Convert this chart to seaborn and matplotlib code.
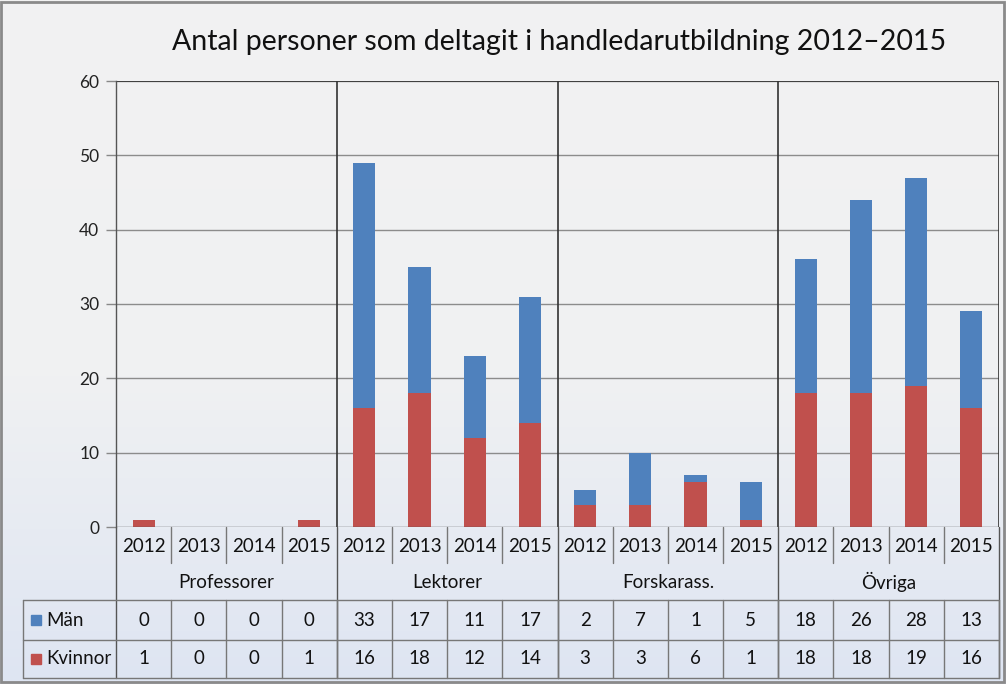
import numpy as np
import pandas as pd
import seaborn as sns
import matplotlib
matplotlib.use("Agg")
import matplotlib.pyplot as plt
from matplotlib.transforms import blended_transform_factory
from matplotlib.colors import LinearSegmentedColormap

# ---- data ----
groups = ["Professorer", "Lektorer", "Forskarass.", "Övriga"]
years = ["2012", "2013", "2014", "2015"]
man = [0, 0, 0, 0, 33, 17, 11, 17, 2, 7, 1, 5, 18, 26, 28, 13]
kvinnor = [1, 0, 0, 1, 16, 18, 12, 14, 3, 3, 6, 1, 18, 18, 19, 16]
series_names = ["Män", "Kvinnor"]
title = "Antal personer som deltagit i handledarutbildning 2012\u20132015"

BLUE = "#4F81BD"
RED = "#C0504D"

sns.set_theme(style="white")
plt.rcParams["font.family"] = ["Lato", "DejaVu Sans"]

W, H = 1006, 684
fig = plt.figure(figsize=(W / 100, H / 100), dpi=100)

def fx(px):
    return px / W

def fy(py):
    return 1 - py / H

# background gradient
bg = fig.add_axes([0, 0, 1, 1], zorder=-10)
cmap = LinearSegmentedColormap.from_list(
    "bg", [(0, "#F2F2F2"), (0.55, "#F0F1F3"), (1, "#DEE5F2")])
grad = np.linspace(0, 1, 256).reshape(-1, 1)
bg.imshow(grad, aspect="auto", cmap=cmap, extent=[0, 1, 1, 0])
bg.set_axis_off()

L, R, T, B = 116, 999, 81, 527
ax = fig.add_axes([fx(L), fy(B), fx(R) - fx(L), fy(T) - fy(B)])
ax.patch.set_alpha(0)

keys = [f"{g}-{y}" for g in groups for y in years]
df = pd.DataFrame({"key": keys, "total": np.array(man) + np.array(kvinnor),
                   "kvinnor": kvinnor})
sns.barplot(data=df, x="key", y="total", order=keys, color=BLUE,
            width=0.4, saturation=1, ax=ax, zorder=3, linewidth=0)
sns.barplot(data=df, x="key", y="kvinnor", order=keys, color=RED,
            width=0.4, saturation=1, ax=ax, zorder=4, linewidth=0)

ax.set_xlim(-0.5, 15.5)
ax.set_ylim(0, 60)
ax.set_yticks(range(0, 61, 10))
ax.set_yticklabels([str(v) for v in range(0, 61, 10)], fontsize=12.5, color="#222222")
ax.set_xticks([])
ax.set_xlabel("")
ax.set_ylabel("")
ax.tick_params(axis="y", length=7, width=1, color="#888888", pad=5, left=True)
for yv in range(10, 61, 10):
    ax.axhline(yv, color="#8C8C8C", lw=1.0, zorder=1)
for s in ["top", "bottom", "right"]:
    ax.spines[s].set_visible(False)
ax.spines["left"].set_color("#555555")
ax.spines["left"].set_linewidth(1.0)
ax.axhline(60, color="#333333", lw=1.2, zorder=2)
ax.axhline(0, color="#555555", lw=1.0, zorder=5)
ax.axvline(15.5, color="#333333", lw=1.2, zorder=2)
for xs in [3.5, 7.5, 11.5]:
    ax.axvline(xs, color="#333333", lw=1.2, zorder=2)

fig.text(fx(559), fy(42), title, ha="center", va="center", fontsize=20.5, color="#111111")

# ---- data table ----
tr = blended_transform_factory(ax.transData, fig.transFigure)
line_kw = dict(color="#777777", lw=1.0)
sep_kw = dict(color="#555555", lw=1.0)
y_year, y_grp, y_r1, y_r2, y_end = 527, 565, 600, 640, 678
TFS = 13.5

# year labels
for i, k in enumerate(keys):
    fig.text(0, 0, years[i % 4], transform=tr, fontsize=TFS, ha="center",
             va="center", color="#111111").set_position((i, fy(546)))
    if i % 4 != 3 and i < 15:
        fig.add_artist(plt.Line2D([i + 0.5, i + 0.5], [fy(y_year), fy(y_grp - 2)],
                                  transform=tr, **line_kw))
for gi, g in enumerate(groups):
    fig.text(0, 0, g, transform=tr, fontsize=TFS, ha="center", va="center",
             color="#111111").set_position((gi * 4 + 1.5, fy(582)))
# group separators through year/group rows
for xs in [-0.5, 3.5, 7.5, 11.5, 15.5]:
    fig.add_artist(plt.Line2D([xs, xs], [fy(y_year), fy(y_end)], transform=tr, **sep_kw))

# data rows
for yy in [y_r1, y_r2, y_end]:
    fig.add_artist(plt.Line2D([fx(23), fx(R)], [fy(yy), fy(yy)],
                              transform=fig.transFigure, **line_kw))
fig.add_artist(plt.Line2D([fx(23), fx(23)], [fy(y_r1), fy(y_end)],
                          transform=fig.transFigure, **line_kw))
for i in range(16):
    fig.add_artist(plt.Line2D([i + 0.5, i + 0.5], [fy(y_r1), fy(y_end)],
                              transform=tr, **line_kw))

rows = [(series_names[0], man, BLUE, (y_r1 + y_r2) / 2),
        (series_names[1], kvinnor, RED, (y_r2 + y_end) / 2)]
for name, vals, col, yc in rows:
    fig.add_artist(plt.Rectangle((fx(31), fy(yc) - 5 / H), 10 / W, 10 / H,
                                 transform=fig.transFigure, color=col))
    fig.text(fx(46), fy(yc), name, fontsize=TFS, ha="left", va="center", color="#111111")
    for i, v in enumerate(vals):
        fig.text(0, 0, str(v), transform=tr, fontsize=TFS, ha="center",
                 va="center", color="#111111").set_position((i, fy(yc)))

# outer border
fig.add_artist(plt.Rectangle((fx(1), fy(682)), fx(1003), 680 / H, fill=False,
                             transform=fig.transFigure, edgecolor="#8A8A8A", lw=2))

fig.savefig("out.png", dpi=100)
